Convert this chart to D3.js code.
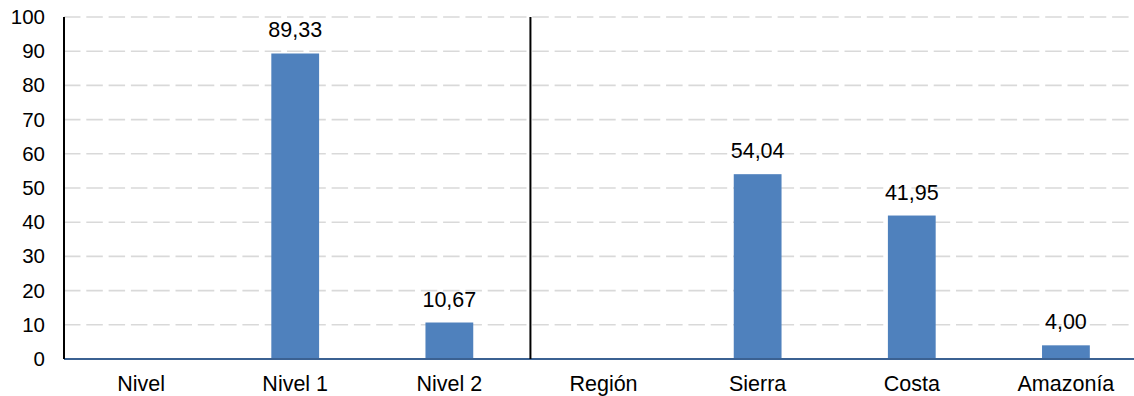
<!DOCTYPE html>
<html>
<head>
<meta charset="utf-8">
<script src="https://cdn.jsdelivr.net/npm/d3@7"></script>
<style>
  html, body { margin: 0; padding: 0; background: #ffffff; }
  svg { display: block; }
  text { font-family: "Liberation Sans", Arial, sans-serif; fill: #000; }
</style>
</head>
<body>
<svg id="chart" width="1134" height="396"></svg>
<script>
// Categories: group headers ("Nivel", "Región") carry no bar
const categories = ["Nivel", "Nivel 1", "Nivel 2", "Región", "Sierra", "Costa", "Amazonía"];
const values = [null, 89.33, 10.67, null, 54.04, 41.95, 4.00];
const yTicks = [0, 10, 20, 30, 40, 50, 60, 70, 80, 90, 100];
// The divider separates the "Nivel" group from the "Región" group
const dividerBefore = "Región";

const width = 1134, height = 396;
const plot = { left: 64, right: 1143, top: 17, bottom: 359 };

const svg = d3.select("#chart");

const x = d3.scaleBand()
  .domain(categories)
  .range([plot.left, plot.right])
  .paddingInner(0)
  .paddingOuter(0);

const y = d3.scaleLinear()
  .domain([0, 100])
  .range([plot.bottom, plot.top]);

const esLocale = d3.formatLocale({ decimal: ",", thousands: ".", grouping: [3], currency: ["", ""] });
const fmt = esLocale.format(".2f");

// Dashed horizontal gridlines
svg.append("g")
  .selectAll("line")
  .data(yTicks.filter(d => d > 0))
  .join("line")
  .attr("x1", plot.left)
  .attr("x2", width)
  .attr("y1", d => y(d))
  .attr("y2", d => y(d))
  .attr("stroke", "#d9d9d9")
  .attr("stroke-width", 1.6)
  .attr("stroke-dasharray", "16.5,5.8");

// Y axis with labels only
const yAxis = d3.axisLeft(y)
  .tickValues(yTicks)
  .tickSize(0)
  .tickPadding(19)
  .tickFormat(d3.format("d"));

const gy = svg.append("g")
  .attr("transform", `translate(${plot.left},0)`)
  .call(yAxis);
gy.select(".domain").remove();
gy.selectAll("text")
  .attr("font-size", 20.5)
  .attr("font-family", "Liberation Sans, Arial, sans-serif")
  .attr("fill", "#000");

// Bars
const barW = x.step() * 0.31;
svg.append("g")
  .selectAll("rect")
  .data(categories.map((c, i) => ({ c, v: values[i] })).filter(d => d.v !== null))
  .join("rect")
  .attr("x", d => x(d.c) + x.bandwidth() / 2 - barW / 2)
  .attr("y", d => y(d.v))
  .attr("width", barW)
  .attr("height", d => y(0) - y(d.v))
  .attr("fill", "#4f81bd");

// Value labels above bars
svg.append("g")
  .selectAll("text")
  .data(categories.map((c, i) => ({ c, v: values[i] })).filter(d => d.v !== null))
  .join("text")
  .attr("x", d => x(d.c) + x.bandwidth() / 2)
  .attr("y", d => y(d.v) - 16)
  .attr("text-anchor", "middle")
  .attr("font-size", 21.5)
  .text(d => fmt(d.v));

// Category labels
const xAxis = d3.axisBottom(x).tickSize(0).tickPadding(0);
const gx = svg.append("g")
  .attr("transform", `translate(0,${plot.bottom})`)
  .call(xAxis);
gx.select(".domain").remove();
gx.selectAll("text")
  .attr("font-size", 21.5)
  .attr("font-family", "Liberation Sans, Arial, sans-serif")
  .attr("fill", "#000")
  .attr("dy", null)
  .attr("y", 32);

// Baseline
svg.append("line")
  .attr("x1", plot.left)
  .attr("x2", width)
  .attr("y1", y(0))
  .attr("y2", y(0))
  .attr("stroke", "#3b6192")
  .attr("stroke-width", 2);

// Vertical axis line
svg.append("line")
  .attr("x1", plot.left)
  .attr("x2", plot.left)
  .attr("y1", y(100))
  .attr("y2", y(0))
  .attr("stroke", "#000")
  .attr("stroke-width", 2);

// Group divider
const divX = x(dividerBefore) + 4;
svg.append("line")
  .attr("x1", divX)
  .attr("x2", divX)
  .attr("y1", y(100))
  .attr("y2", y(0))
  .attr("stroke", "#000")
  .attr("stroke-width", 2);
</script>
</body>
</html>
